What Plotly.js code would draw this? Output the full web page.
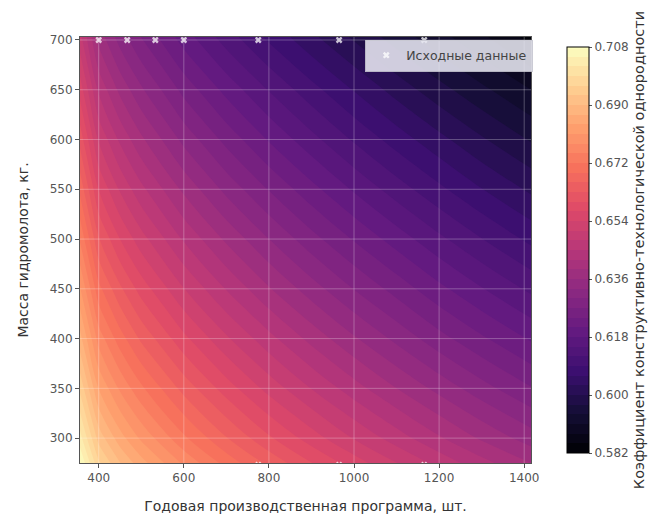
<!DOCTYPE html>
<html>
<head>
<meta charset="utf-8">
<script src="https://cdn.plot.ly/plotly-3.0.1.min.js"></script>
<style>
html,body{margin:0;padding:0;background:#fff;}
#chart{width:670px;height:520px;}
</style>
</head>
<body>
<div id="chart"></div>
<script>
// Grid of the surface
const gridX = [356, 400, 450, 500, 600, 700, 800, 900, 1000, 1100, 1200, 1300, 1416];
const gridY = [275, 300, 350, 400, 450, 500, 550, 600, 650, 703];
const gridZ = [
  [0.7080, 0.6966, 0.6901, 0.6852, 0.6774, 0.6709, 0.6652, 0.6601, 0.6555, 0.6511, 0.6470, 0.6431, 0.6390],
  [0.7032, 0.6918, 0.6853, 0.6804, 0.6726, 0.6662, 0.6605, 0.6555, 0.6508, 0.6465, 0.6424, 0.6385, 0.6345],
  [0.6953, 0.6839, 0.6775, 0.6726, 0.6649, 0.6585, 0.6529, 0.6479, 0.6433, 0.6390, 0.6350, 0.6312, 0.6272],
  [0.6881, 0.6767, 0.6704, 0.6654, 0.6578, 0.6515, 0.6460, 0.6410, 0.6364, 0.6322, 0.6281, 0.6245, 0.6206],
  [0.6813, 0.6699, 0.6636, 0.6587, 0.6511, 0.6448, 0.6393, 0.6344, 0.6299, 0.6258, 0.6218, 0.6182, 0.6143],
  [0.6746, 0.6633, 0.6570, 0.6522, 0.6446, 0.6384, 0.6330, 0.6281, 0.6237, 0.6196, 0.6157, 0.6121, 0.6082],
  [0.6682, 0.6569, 0.6506, 0.6458, 0.6383, 0.6321, 0.6268, 0.6220, 0.6176, 0.6135, 0.6097, 0.6061, 0.6024],
  [0.6619, 0.6506, 0.6444, 0.6396, 0.6321, 0.6260, 0.6207, 0.6160, 0.6116, 0.6076, 0.6039, 0.6004, 0.5967],
  [0.6557, 0.6444, 0.6382, 0.6335, 0.6260, 0.6200, 0.6148, 0.6101, 0.6058, 0.6018, 0.5981, 0.5947, 0.5910],
  [0.6490, 0.6378, 0.6316, 0.6269, 0.6195, 0.6135, 0.6083, 0.6037, 0.5995, 0.5956, 0.5920, 0.5886, 0.5840]
];

// Source data points
const srcX = [400, 467, 533, 600, 775, 965, 1165, 775, 965, 1165];
const srcY = [700, 700, 700, 700, 700, 700, 700, 273, 273, 273];

// Ticks
const xTicks = [400, 600, 800, 1000, 1200, 1400];
const yTicks = [300, 350, 400, 450, 500, 550, 600, 650, 700];
const cbTicks = [0.582, 0.600, 0.618, 0.636, 0.654, 0.672, 0.690, 0.708];

const xRange = [356, 1416];
const yRange = [275, 703];

const magma = [
  [0.0, '#000004'], [0.1, '#140e36'], [0.2, '#3b0f70'], [0.3, '#641a80'],
  [0.4, '#8c2981'], [0.5, '#b73779'], [0.6, '#de4968'], [0.7, '#f7705c'],
  [0.8, '#fe9f6d'], [0.9, '#fecf92'], [1.0, '#fcfdbf']
];

const contour = {
  type: 'contour',
  x: gridX, y: gridY, z: gridZ,
  colorscale: magma,
  zmin: 0.582, zmax: 0.708,
  autocontour: false,
  contours: {start: 0.582, end: 0.708, size: 0.003, coloring: 'fill', showlines: false},
  line: {width: 0},
  showlegend: false,
  hoverinfo: 'skip',
  colorbar: {
    x: 1.0586, xanchor: 'left', xref: 'paper',
    y: 0.5, yanchor: 'middle', len: 1, lenmode: 'fraction',
    thickness: 22, thicknessmode: 'pixels',
    outlinecolor: '#000', outlinewidth: 1,
    tickvals: cbTicks,
    ticktext: cbTicks.map(v => v.toFixed(3)),
    ticks: 'outside', ticklen: 3, tickcolor: '#555',
    tickfont: {family: 'DejaVu Sans', size: 12, color: '#555'},
    title: {text: 'Коэффициент конструктивно-технологической однородности', side: 'right',
            font: {family: 'DejaVu Sans', size: 14.5, color: '#333'}}
  }
};

const points = {
  type: 'scatter', mode: 'markers',
  x: srcX, y: srcY,
  name: 'Исходные данные',
  marker: {symbol: 'x', size: 6, color: 'rgba(255,255,255,0.75)', line: {width: 0}},
  hoverinfo: 'skip'
};

const gridShapes = [];
xTicks.forEach(v => gridShapes.push({type: 'line', xref: 'x', yref: 'paper', x0: v, x1: v, y0: 0, y1: 1,
  line: {color: 'rgba(255,255,255,0.28)', width: 1}, layer: 'above'}));
yTicks.forEach(v => gridShapes.push({type: 'line', xref: 'paper', yref: 'y', x0: 0, x1: 1, y0: v, y1: v,
  line: {color: 'rgba(255,255,255,0.28)', width: 1}, layer: 'above'}));

const layout = {
  width: 670, height: 520,
  margin: {l: 80, r: 129, t: 37, b: 57, pad: 0},
  paper_bgcolor: '#fff', plot_bgcolor: '#fff',
  font: {family: 'DejaVu Sans', color: '#333'},
  showlegend: true,
  legend: {x: 1.005, xanchor: 'right', y: 0.994, yanchor: 'top',
    bgcolor: 'rgba(232,232,242,0.88)', bordercolor: 'rgba(200,200,210,0.9)', borderwidth: 1,
    font: {family: 'DejaVu Sans', size: 12.5, color: '#444'}},
  xaxis: {
    range: xRange, tickvals: xTicks, showgrid: false, zeroline: false,
    showline: true, mirror: true, linecolor: '#555', linewidth: 1,
    ticks: 'outside', ticklen: 4, tickcolor: '#555',
    tickfont: {family: 'DejaVu Sans', size: 12, color: '#555'},
    title: {text: 'Годовая производственная программа, шт.', standoff: 16,
            font: {family: 'DejaVu Sans', size: 14, color: '#333'}}
  },
  yaxis: {
    range: yRange, tickvals: yTicks, showgrid: false, zeroline: false,
    showline: true, mirror: true, linecolor: '#555', linewidth: 1,
    ticks: 'outside', ticklen: 4, tickcolor: '#555',
    tickfont: {family: 'DejaVu Sans', size: 12, color: '#555'},
    title: {text: 'Масса гидромолота, кг.', standoff: 17,
            font: {family: 'DejaVu Sans', size: 14, color: '#333'}}
  },
  shapes: gridShapes
};

Plotly.newPlot('chart', [contour, points], layout, {displayModeBar: false, staticPlot: true});
</script>
</body>
</html>
